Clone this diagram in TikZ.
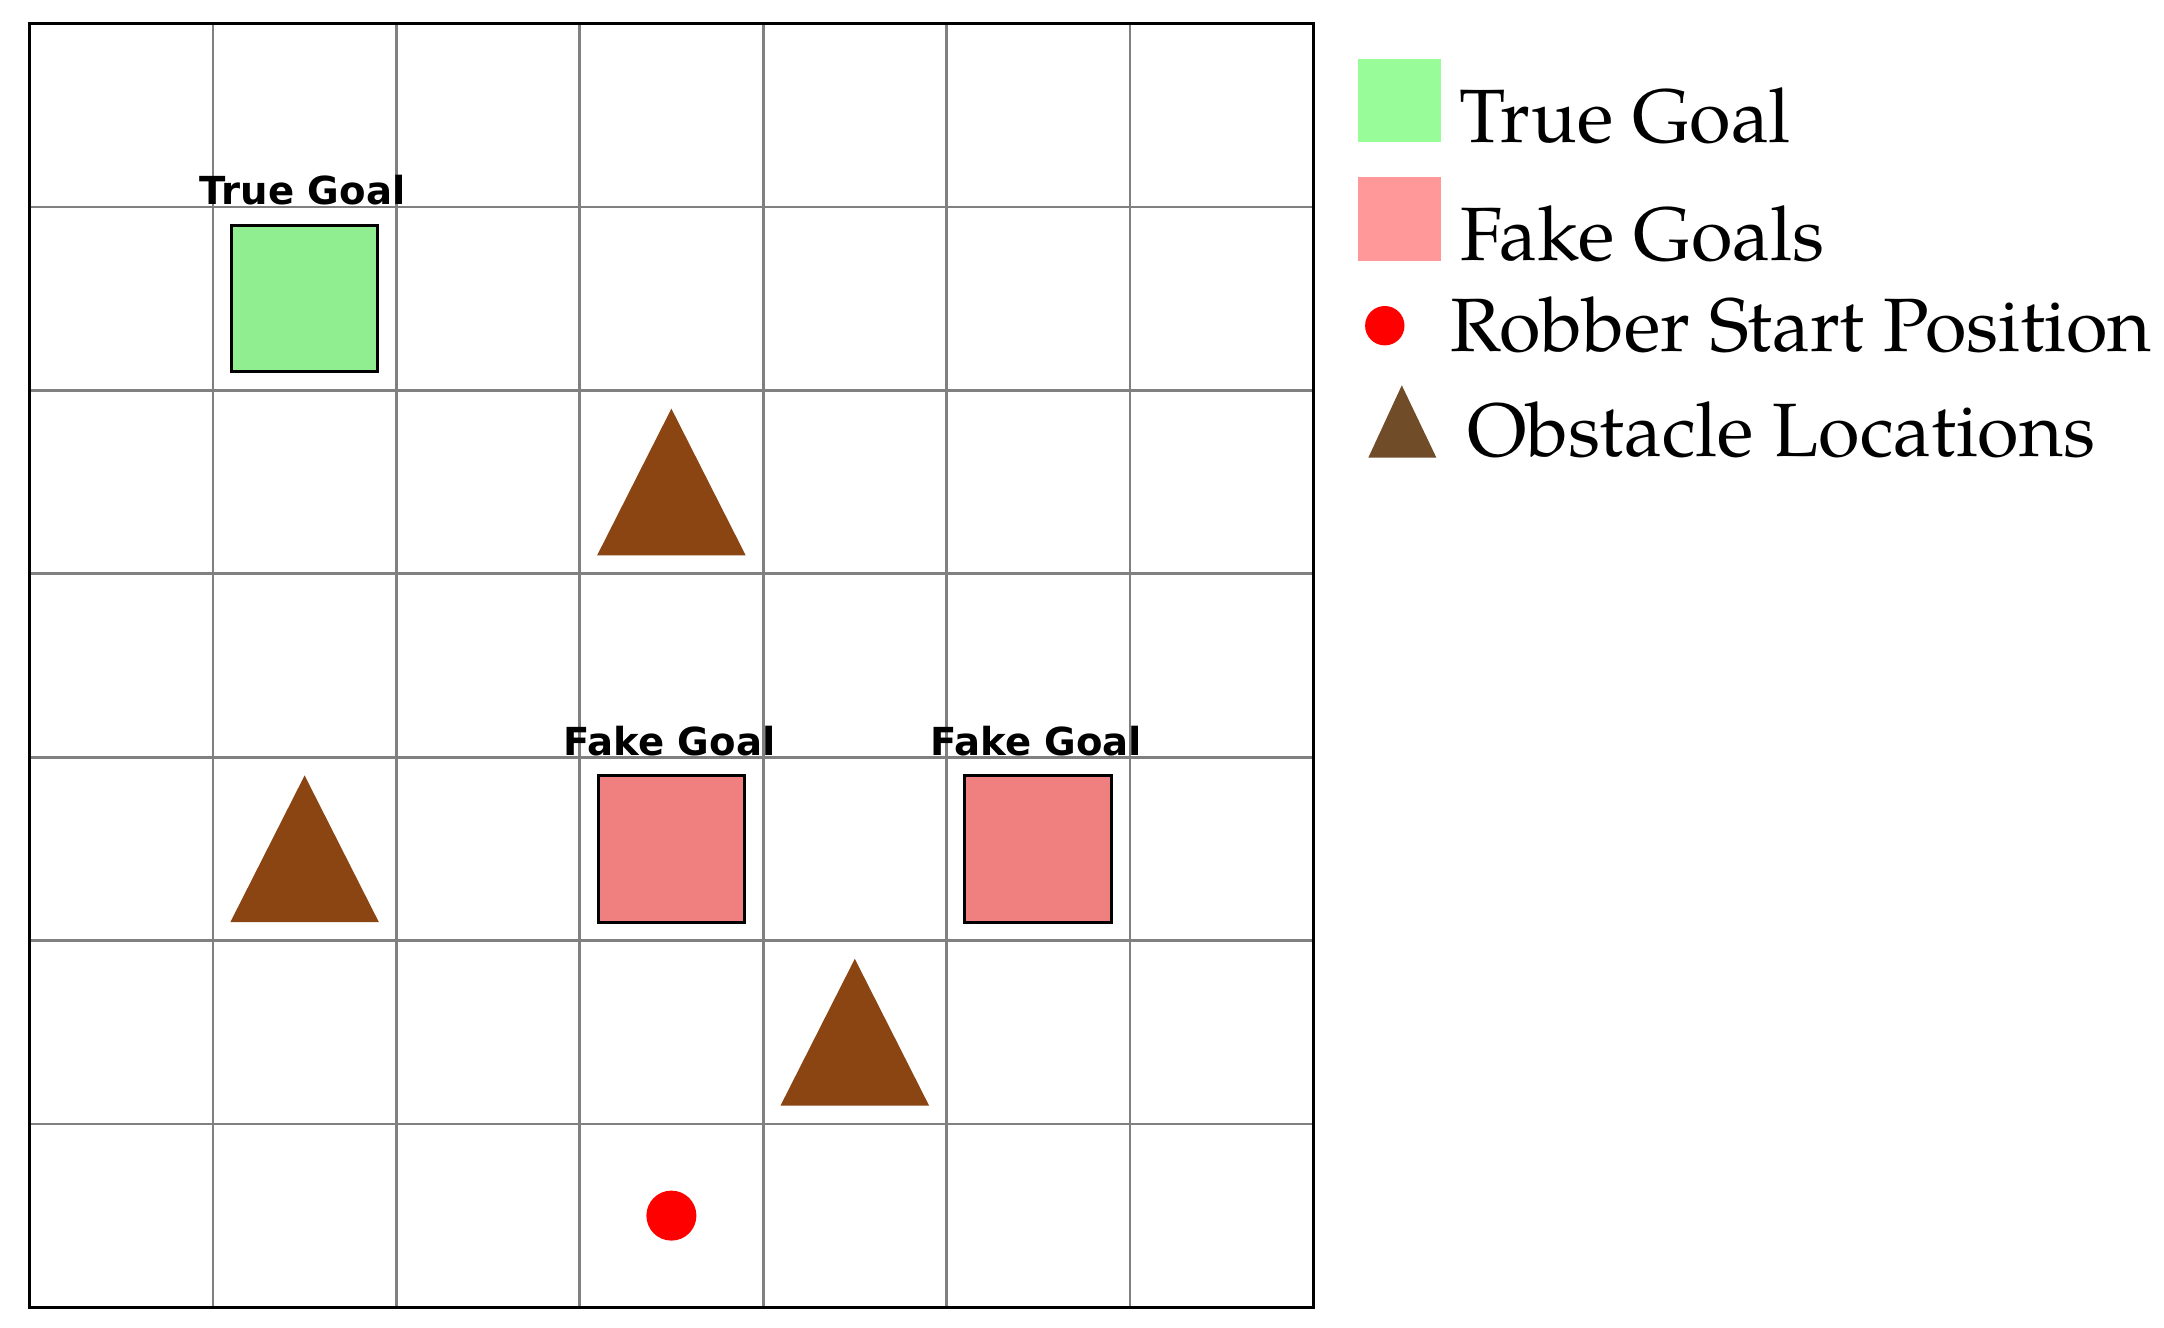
\documentclass[tikz,border=0pt]{standalone}
\usepackage{fontspec}
\newfontfamily\lblfont{DejaVu Sans}
\newfontfamily\legfont{texgyrepagella-regular.otf}
\definecolor{gridgray}{RGB}{128,128,128}
\definecolor{truegreen}{RGB}{144,238,144}
\definecolor{fakered}{RGB}{240,128,128}
\definecolor{obstbrown}{RGB}{139,69,19}
\definecolor{leggreen}{RGB}{152,252,152}
\definecolor{legred}{RGB}{255,153,153}
\definecolor{legbrown}{RGB}{112,76,40}
\tikzset{
  gridline/.style={draw=gridgray, line width=1.4pt},
  border/.style={draw=black, line width=1.7pt},
  goalbox/.style={draw=black, line width=1.5pt},
  celllabel/.style={anchor=base, inner sep=0pt, font=\lblfont\bfseries\fontsize{19.3pt}{21pt}\selectfont},
  legtext/.style={anchor=base west, inner sep=0pt, font=\legfont\fontsize{37.8pt}{41pt}\selectfont},
}
\begin{document}
\begin{tikzpicture}[x=0.5pt, y=-0.5pt]
\useasboundingbox (0,0) rectangle (2164,1328);
\fill[white] (0,0) rectangle (2164,1328);
% grid
\foreach \i in {1,...,6} {
  \draw[gridline] ({29.5+183.4*\i},23.5) -- ({29.5+183.4*\i},1307.3);
  \draw[gridline] (29.5,{23.5+183.4*\i}) -- (1313.3,{23.5+183.4*\i});
}
\draw[border] (29.5,23.5) rectangle (1313.3,1307.3);
% true goal (col 1,row 1)
\draw[goalbox, fill=truegreen] ({29.5+183.4*1.1},{23.5+183.4*1.1}) rectangle ({29.5+183.4*1.9},{23.5+183.4*1.9});
\node[celllabel] (tg) at ({29.5+183.4*1.5-2},{23.5+183.4*1-2}) {True Goal};
% fake goals (row 4, col 3 and 5)
\draw[goalbox, fill=fakered] ({29.5+183.4*3.1},{23.5+183.4*4.1}) rectangle ({29.5+183.4*3.9},{23.5+183.4*4.9});
\node[celllabel] (fg1) at ({29.5+183.4*3.5-2},{23.5+183.4*4-2}) {Fake Goal};
\draw[goalbox, fill=fakered] ({29.5+183.4*5.1},{23.5+183.4*4.1}) rectangle ({29.5+183.4*5.9},{23.5+183.4*4.9});
\node[celllabel] (fg2) at ({29.5+183.4*5.5-2},{23.5+183.4*4-2}) {Fake Goal};
% obstacles
\foreach \c/\r in {3/2, 1/4, 4/5} {
  \fill[obstbrown] ({29.5+183.4*(\c+0.5)},{23.5+183.4*(\r+0.1)}) -- ({29.5+183.4*(\c+0.905)},{23.5+183.4*(\r+0.9)}) -- ({29.5+183.4*(\c+0.095)},{23.5+183.4*(\r+0.9)}) -- cycle;
}
% robber start
\fill[red] ({29.5+183.4*3.5},{23.5+183.4*6.5}) circle[radius=25];
% legend
\fill[leggreen] (1358,59) rectangle (1441,142);
\node[legtext] (l1) at (1459,142.7) {True Goal};
\fill[legred] (1358,177) rectangle (1441,260.7);
\node[legtext] (l2) at (1460,260.7) {Fake Goals};
\fill[red] (1384.8,325.7) circle[radius=19.7];
\node[legtext] (l3) at (1450.5,351.7) {Robber Start Position};
\fill[legbrown] (1401.8,385.3) -- (1436.4,457.7) -- (1368.3,457.7) -- cycle;
\node[legtext] (l4) at (1467,456.7) {Obstacle Locations};
\end{tikzpicture}
\end{document}
